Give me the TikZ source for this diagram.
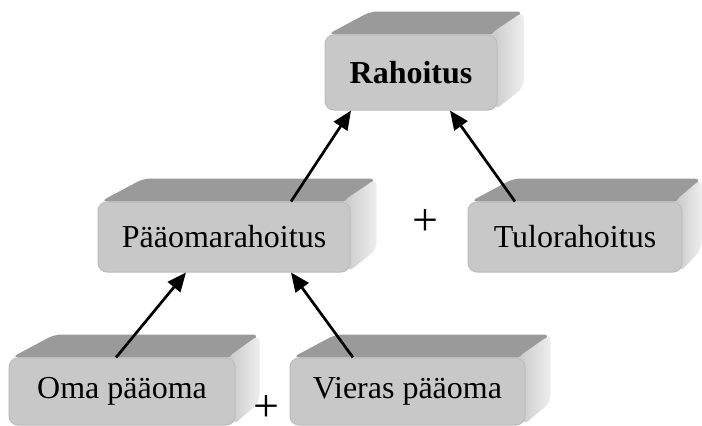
\documentclass[tikz,border=0pt]{standalone}
\usepackage{fontspec}
\setmainfont{Liberation Serif}
\usetikzlibrary{arrows.meta,backgrounds}
\definecolor{frontgray}{RGB}{200,200,200}
\definecolor{topgray}{RGB}{154,154,154}
\definecolor{sidelight}{RGB}{238,238,238}
\definecolor{sidedark}{RGB}{200,200,200}
\definecolor{edgegray}{RGB}{188,188,188}
\newcommand\blockfaces[2]{%
  \fill[topgray, rounded corners=7pt] ([xshift=3pt]#1.north west) -- ([xshift=46pt,yshift=23pt]#1.north west) -- ([xshift=#2pt,yshift=23pt]#1.north east) -- (#1.north east) -- cycle;
  \shade[left color=sidedark, right color=sidelight, rounded corners=7pt] ([xshift=-8pt]#1.north east) -- ([xshift=#2pt,yshift=23pt]#1.north east) -- ([xshift=#2pt,yshift=23pt]#1.south east) -- ([xshift=-3pt]#1.south east) -- cycle;}
\begin{document}
\begin{tikzpicture}[x=1pt,y=-1pt,
  blockbox/.style={fill=frontgray, draw=edgegray, line width=1pt, rounded corners=9pt, inner sep=0pt, font=\fontsize{32}{36}\selectfont},
  link/.style={line width=2.7pt, -{Triangle[length=19pt,width=16pt]}},
  plus/.style={font=\fontsize{46}{46}\selectfont, inner sep=0pt}]
\useasboundingbox (0,0) rectangle (702,426);
\node[blockbox, minimum width=172pt, minimum height=75pt] (R) at (411,72.5) {\textbf{Rahoitus}};
\node[blockbox, minimum width=252pt, minimum height=70pt] (P) at (224,237) {Pääomarahoitus};
\node[blockbox, minimum width=214pt, minimum height=70pt] (T) at (575,237) {Tulorahoitus};
\node[blockbox, minimum width=226pt, minimum height=67pt] (O) at (122,391.5) {Oma pääoma};
\node[blockbox, minimum width=235pt, minimum height=67pt] (V) at (407.5,391.5) {Vieras pääoma};
\begin{scope}[on background layer]
\blockfaces{R}{26}
\blockfaces{P}{26}
\blockfaces{T}{19}
\blockfaces{O}{24}
\blockfaces{V}{25}
\end{scope}
\node[plus] (plusA) at (425,223) {+};
\node[plus] (plusB) at (266,409) {+};
\draw[link] ([xshift=67pt]P.north) -- ([xshift=-60pt]R.south);
\draw[link] ([xshift=-60pt]T.north) -- ([xshift=39pt]R.south);
\draw[link] ([xshift=-6pt]O.north) -- ([xshift=-38pt]P.south);
\draw[link] ([xshift=-54.5pt]V.north) -- ([xshift=67pt]P.south);
\end{tikzpicture}
\end{document}
